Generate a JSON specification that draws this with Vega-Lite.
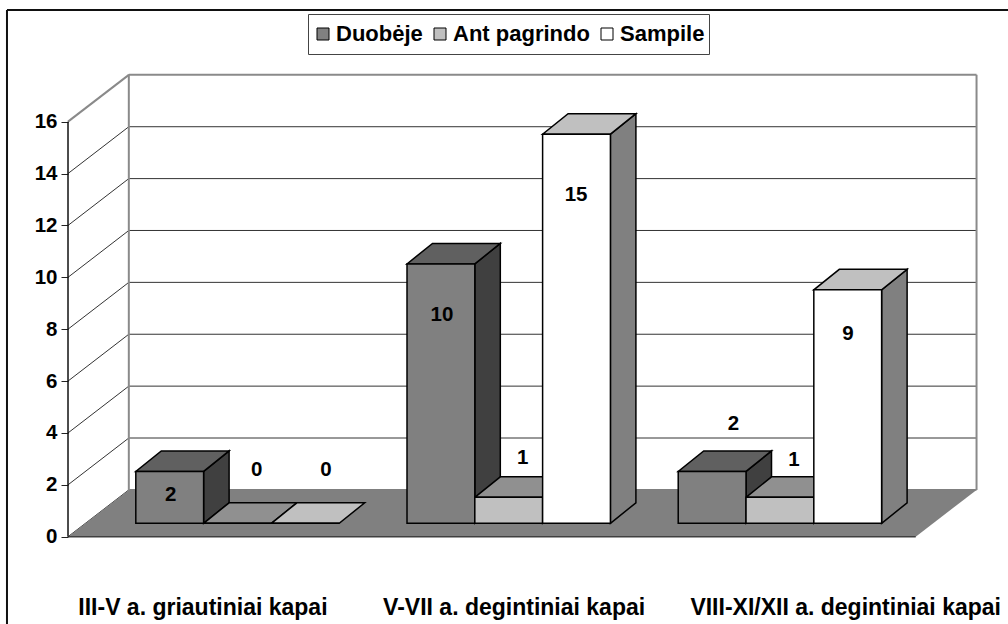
{
"$schema":"https://vega.github.io/schema/vega-lite/v6.json",
"width":1008,"height":624,"padding":0,
"autosize":{"type":"none"},
"background":"#ffffff",
"view":{"stroke":null},
"datasets":{
"bars":[
{"category":"III-V a. griautiniai kapai","series":"Duobėje","value":2},
{"category":"III-V a. griautiniai kapai","series":"Ant pagrindo","value":0},
{"category":"III-V a. griautiniai kapai","series":"Sampile","value":0},
{"category":"V-VII a. degintiniai kapai","series":"Duobėje","value":10},
{"category":"V-VII a. degintiniai kapai","series":"Ant pagrindo","value":1},
{"category":"V-VII a. degintiniai kapai","series":"Sampile","value":15},
{"category":"VIII-XI/XII a. degintiniai kapai","series":"Duobėje","value":2},
{"category":"VIII-XI/XII a. degintiniai kapai","series":"Ant pagrindo","value":1},
{"category":"VIII-XI/XII a. degintiniai kapai","series":"Sampile","value":9}
],
"levels":[{"level":0},{"level":2},{"level":4},{"level":6},{"level":8},{"level":10},{"level":12},{"level":14},{"level":16}],
"floor":[{"a":0,"lo":0,"hi":0},{"a":0.897,"lo":0,"hi":1.805},{"a":12.503,"lo":0,"hi":1.805},{"a":13.4,"lo":1.805,"hi":1.805}],
"cats":[{"category":"III-V a. griautiniai kapai","cx":1.99},{"category":"V-VII a. degintiniai kapai","cx":6.58},{"category":"VIII-XI/XII a. degintiniai kapai","cx":11.47}]
},
"data":{"name":"bars"},
"transform":[
{"calculate":"indexof(['III-V a. griautiniai kapai','V-VII a. degintiniai kapai','VIII-XI/XII a. degintiniai kapai'],datum.category)","as":"c"},
{"calculate":"indexof(['Duobėje','Ant pagrindo','Sampile'],datum.series)","as":"s"},
{"calculate":"1+4*datum.c+datum.s","as":"xL"},
{"calculate":"datum.xL+1","as":"xR"},
{"calculate":"0.517","as":"base"},
{"calculate":"0.517+datum.value","as":"top"}
],
"layer":[
{"data":{"values":[{}]},"mark":{"type":"rule","color":"#111111","strokeWidth":2},
 "encoding":{"x":{"datum":-0.9,"type":"quantitative","axis":null,"scale":{"domain":[-1.003,13.864],"nice":false,"zero":false}},
 "y":{"datum":-3.365,"type":"quantitative","axis":null,"scale":{"domain":[-3.365,20.69],"nice":false,"zero":false}},"y2":{"datum":20.3}}},
{"data":{"values":[{}]},"mark":{"type":"rule","color":"#111111","strokeWidth":2},
 "encoding":{"x":{"datum":-0.9,"type":"quantitative","axis":null},"x2":{"datum":13.864},"y":{"datum":20.3,"type":"quantitative","axis":null}}},
{"data":{"name":"levels"},"transform":[{"calculate":"datum.level+1.805","as":"back"}],
 "mark":{"type":"rule","color":"#333333","strokeWidth":1},
 "encoding":{"x":{"datum":0,"type":"quantitative","axis":null},"x2":{"datum":0.897},
 "y":{"field":"level","type":"quantitative","axis":{"title":null,"values":[0,2,4,6,8,10,12,14,16],"offset":-68,"domain":false,"grid":false,"ticks":true,"tickSize":7,"tickColor":"#222222","tickWidth":1,"labelFont":"Liberation Sans","labelFontWeight":"bold","labelFontSize":20.5,"labelColor":"#000000","labelPadding":4}},
 "y2":{"field":"back"}}},
{"data":{"name":"levels"},"transform":[{"filter":"datum.level<16"},{"calculate":"datum.level+1.805","as":"back"}],
 "mark":{"type":"rule","color":"#333333","strokeWidth":1},
 "encoding":{"x":{"datum":0.897,"type":"quantitative","axis":null},"x2":{"datum":13.4},"y":{"field":"back","type":"quantitative","axis":null}}},
{"data":{"values":[{}]},"mark":{"type":"rule","color":"#8a8a8a","strokeWidth":2},
 "encoding":{"x":{"datum":0.897,"type":"quantitative","axis":null},"x2":{"datum":13.4},"y":{"datum":17.805,"type":"quantitative","axis":null}}},
{"data":{"values":[{}]},"mark":{"type":"rule","color":"#8a8a8a","strokeWidth":2},
 "encoding":{"x":{"datum":0,"type":"quantitative","axis":null},"x2":{"datum":0.897},"y":{"datum":16,"type":"quantitative","axis":null},"y2":{"datum":17.805}}},
{"data":{"values":[{}]},"mark":{"type":"rule","color":"#8a8a8a","strokeWidth":2},
 "encoding":{"x":{"datum":0.897,"type":"quantitative","axis":null},"y":{"datum":1.805,"type":"quantitative","axis":null},"y2":{"datum":17.805}}},
{"data":{"values":[{}]},"mark":{"type":"rule","color":"#8a8a8a","strokeWidth":2},
 "encoding":{"x":{"datum":13.4,"type":"quantitative","axis":null},"y":{"datum":1.805,"type":"quantitative","axis":null},"y2":{"datum":17.805}}},
{"data":{"name":"floor"},"mark":{"type":"area","color":"#808080","opacity":1},
 "encoding":{"x":{"field":"a","type":"quantitative","axis":null},"y":{"field":"lo","type":"quantitative","axis":null},"y2":{"field":"hi"}}},
{"data":{"values":[{}]},"mark":{"type":"rule","color":"#404040","strokeWidth":1.5},
 "encoding":{"x":{"datum":0,"type":"quantitative","axis":null},"x2":{"datum":12.503},"y":{"datum":0,"type":"quantitative","axis":null}}},
{"data":{"values":[{}]},"mark":{"type":"rule","color":"#111111","strokeWidth":1.5},
 "encoding":{"x":{"datum":0,"type":"quantitative","axis":null},"y":{"datum":0,"type":"quantitative","axis":null},"y2":{"datum":16}}},
{"transform":[{"filter":"datum.value>0"},{"calculate":"[0,1]","as":"k"},{"flatten":["k"]},
 {"calculate":"datum.xR+datum.k*0.376","as":"px"},{"calculate":"datum.base+datum.k*0.79","as":"lo"},{"calculate":"datum.top+datum.k*0.79","as":"hi"}],
 "mark":{"type":"area","stroke":"#000000","strokeWidth":1.5,"opacity":1},
 "encoding":{"x":{"field":"px","type":"quantitative","axis":null},"y":{"field":"lo","type":"quantitative","axis":null,"stack":null},"y2":{"field":"hi"},"detail":{"field":"xL"},
 "fill":{"field":"series","type":"nominal","legend":null,"scale":{"domain":["Duobėje","Ant pagrindo","Sampile"],"range":["#404040","#606060","#808080"]}}}},
{"transform":[{"calculate":"[0,1,2,3]","as":"k"},{"flatten":["k"]},
 {"calculate":"[datum.xL,datum.xL+0.376,datum.xR,datum.xR+0.376][datum.k]","as":"px"},
 {"calculate":"datum.top+(datum.k==3?0.79:0)","as":"lo"},
 {"calculate":"datum.top+(datum.k==0?0:0.79)","as":"hi"}],
 "mark":{"type":"area","stroke":"#000000","strokeWidth":1.5,"opacity":1},
 "encoding":{"x":{"field":"px","type":"quantitative","axis":null},"y":{"field":"lo","type":"quantitative","axis":null,"stack":null},"y2":{"field":"hi"},"detail":{"field":"xL"},
 "fill":{"field":"series","type":"nominal","legend":null,"scale":{"domain":["Duobėje","Ant pagrindo","Sampile"],"range":["#606060","#909090","#c0c0c0"]}}}},
{"mark":{"type":"rect","stroke":"#000000","strokeWidth":1.5,"opacity":1},
 "encoding":{"x":{"field":"xL","type":"quantitative","axis":null},"x2":{"field":"xR"},"y":{"field":"base","type":"quantitative","axis":null},"y2":{"field":"top"},
 "fill":{"field":"series","type":"nominal","sort":null,"scale":{"domain":["Duobėje","Ant pagrindo","Sampile"],"range":["#808080","#c0c0c0","#ffffff"]},
 "legend":{"title":null,"orient":"none","legendX":308,"legendY":14,"direction":"horizontal","columns":3,"strokeColor":"#444444","fillColor":"#ffffff","padding":4,"clipHeight":32,"symbolType":"square","symbolSize":144,"symbolStrokeColor":"#000000","symbolStrokeWidth":1,"labelFont":"Liberation Sans","labelFontWeight":"bold","labelFontSize":22,"labelColor":"#000000","columnPadding":6,"labelOffset":2}}}},
{"transform":[{"calculate":"datum.c*3+datum.s","as":"i"},
 {"calculate":"[1.515,2.783,3.805,5.516,6.706,7.493,9.813,10.708,11.504][datum.i]","as":"lx"},
 {"calculate":"[1.61,2.57,2.57,8.55,3.02,13.17,4.34,2.96,7.81][datum.i]","as":"ly"}],
 "mark":{"type":"text","font":"Liberation Sans","fontWeight":"bold","fontSize":20.5,"color":"#000000","align":"center","baseline":"middle"},
 "encoding":{"x":{"field":"lx","type":"quantitative","axis":null},"y":{"field":"ly","type":"quantitative","axis":null},"text":{"field":"value","type":"quantitative"}}},
{"data":{"name":"cats"},"transform":[{"calculate":"-2.75","as":"ty"}],
 "mark":{"type":"text","font":"Liberation Sans","fontWeight":"bold","fontSize":23,"color":"#000000","align":"center","baseline":"middle"},
 "encoding":{"x":{"field":"cx","type":"quantitative","axis":null},"y":{"field":"ty","type":"quantitative","axis":null},"text":{"field":"category","type":"nominal"}}}
],
"resolve":{"scale":{"fill":"independent"},"axis":{"y":"independent"}}
}
